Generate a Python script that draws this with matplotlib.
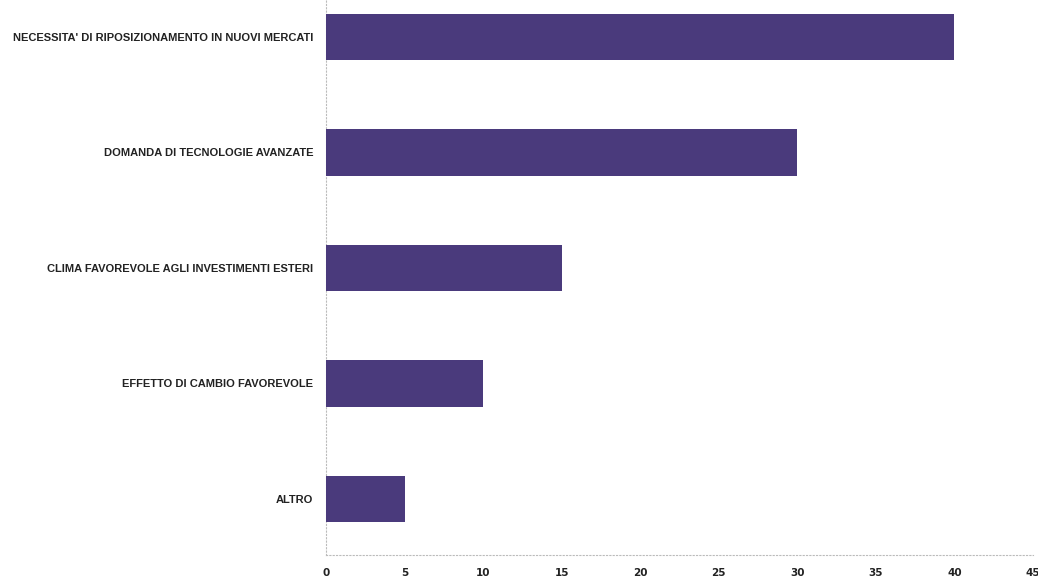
import matplotlib
matplotlib.use("Agg")
import matplotlib.pyplot as plt

categories = [
    "ALTRO",
    "EFFETTO DI CAMBIO FAVOREVOLE",
    "CLIMA FAVOREVOLE AGLI INVESTIMENTI ESTERI",
    "DOMANDA DI TECNOLOGIE AVANZATE",
    "NECESSITA' DI RIPOSIZIONAMENTO IN NUOVI MERCATI",
]
values = [5, 10, 15, 30, 40]
xticks = [0, 5, 10, 15, 20, 25, 30, 35, 40, 45]

W, H = 1038, 577
fig = plt.figure(figsize=(W / 100, H / 100), dpi=100)
left, right, bottom, top = 326, 1033, 555, 0
ax = fig.add_axes([left / W, (H - bottom) / H, (right - left) / W, (bottom - top) / H])

pos = list(range(len(categories)))
ax.barh(pos, values, height=0.4, color="#4a3a7c", zorder=3)
ax.set_xlim(0, 45)
ax.set_ylim(-0.485, 4.32)
ax.set_xticks(xticks)
ax.set_xticklabels([str(t) for t in xticks], fontsize=7.5, fontweight="bold",
                   family="Liberation Sans Narrow", color="#222222")
ax.set_yticks(pos)
ax.set_yticklabels(categories, fontsize=8, fontweight="bold",
                   family="Liberation Sans", color="#222222")
ax.tick_params(axis="both", length=0)
ax.tick_params(axis="y", pad=9)
ax.tick_params(axis="x", pad=9)
for s in ["top", "right"]:
    ax.spines[s].set_visible(False)
for s in ["left", "bottom"]:
    ax.spines[s].set_color("#bbbbbb")
    ax.spines[s].set_linestyle((0, (1, 2)))
    ax.spines[s].set_linewidth(0.8)

fig.savefig("out.png", dpi=100)
